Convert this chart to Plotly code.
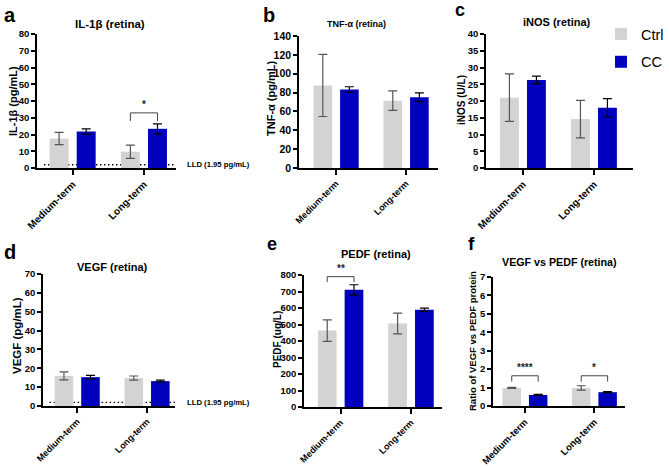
import plotly.graph_objects as go

W, H = 669, 468
FONT = "Liberation Sans, Arial, sans-serif"

categories = ["Medium-term", "Long-term"]
groups = ["Ctrl", "CC"]

# a: IL-1β (retina)
il1b_ctrl = [17.6, 9.7]
il1b_ctrl_err = [3.7, 4.0]
il1b_cc = [21.8, 23.4]
il1b_cc_err = [1.6, 3.0]

# b: TNF-α (retina)
tnfa_ctrl = [87.6, 71.4]
tnfa_ctrl_err = [33.0, 10.3]
tnfa_cc = [83.2, 75.0]
tnfa_cc_err = [3.0, 4.7]

# c: iNOS (retina)
inos_ctrl = [21.0, 14.6]
inos_ctrl_err = [7.1, 5.6]
inos_cc = [26.3, 18.0]
inos_cc_err = [1.1, 2.7]

# d: VEGF (retina)
vegf_ctrl = [16.0, 14.8]
vegf_ctrl_err = [2.1, 1.1]
vegf_cc = [15.3, 13.2]
vegf_cc_err = [0.9, 0.55]

# e: PEDF (retina)
pedf_ctrl = [463, 506]
pedf_ctrl_err = [65, 63]
pedf_cc = [710, 589]
pedf_cc_err = [31, 10]

# f: VEGF vs PEDF ratio
ratio_ctrl = [0.98, 0.98]
ratio_ctrl_err = [0.03, 0.12]
ratio_cc = [0.60, 0.75]
ratio_cc_err = [0.03, 0.03]

LLD = 1.95
LLD_TEXT = "LLD (1.95 pg/mL)"

CTRL_COLOR = "#d3d3d3"
CC_COLOR = "#0000bd"

def px(p):
    return p / W

def py(p):
    return 1 - p / H

panels = [
    dict(letter="a", title="IL-1β (retina)", ytitle="IL-1β (pg/mL)",
         ctrl=il1b_ctrl, ctrl_err=il1b_ctrl_err, cc=il1b_cc, cc_err=il1b_cc_err,
         box=(37, 176, 34, 168), xr=(-0.5, 1.45), ymax=80, dtick=10,
         tickfs=9.5, xtfs=10, titlefs=11.5, ytfs=11, letterpos=(2, 2, 20),
         titlepos=(110, 24), ytpos=(13, 101), lld=True),
    dict(letter="b", title="TNF-α (retina)", ytitle="TNF-α (pg/mL)",
         ctrl=tnfa_ctrl, ctrl_err=tnfa_ctrl_err, cc=tnfa_cc, cc_err=tnfa_cc_err,
         box=(299, 438, 36, 168), xr=(-0.53, 1.456), ymax=140, dtick=20,
         tickfs=10.5, xtfs=9, titlefs=9, ytfs=11, letterpos=(261, 2, 20),
         titlepos=(356, 24), ytpos=(271, 98), lld=False),
    dict(letter="c", title="iNOS (retina)", ytitle="iNOS (U/L)",
         ctrl=inos_ctrl, ctrl_err=inos_ctrl_err, cc=inos_cc, cc_err=inos_cc_err,
         box=(486, 633, 34, 168), xr=(-0.52, 1.55), ymax=40, dtick=5,
         tickfs=9.5, xtfs=10, titlefs=11, ytfs=10, letterpos=(453, -2, 18),
         titlepos=(557, 22), ytpos=(461, 100), lld=False),
    dict(letter="d", title="VEGF (retina)", ytitle="VEGF (pg/mL)",
         ctrl=vegf_ctrl, ctrl_err=vegf_ctrl_err, cc=vegf_cc, cc_err=vegf_cc_err,
         box=(43, 175, 274, 406), xr=(-0.49, 1.40), ymax=70, dtick=10,
         tickfs=9.5, xtfs=9, titlefs=11, ytfs=11.5, letterpos=(2, 239, 20),
         titlepos=(112, 267), ytpos=(17, 336), lld=True),
    dict(letter="e", title="PEDF (retina)", ytitle="PEDF (ug/L)",
         ctrl=pedf_ctrl, ctrl_err=pedf_ctrl_err, cc=pedf_cc, cc_err=pedf_cc_err,
         box=(304, 442, 275, 407), xr=(-0.52, 1.44), ymax=800, dtick=100,
         tickfs=9.5, xtfs=9, titlefs=11, ytfs=10, letterpos=(265, 232, 18),
         titlepos=(376, 254), ytpos=(277, 340), lld=False),
    dict(letter="f", title="VEGF vs PEDF (retina)", ytitle="Ratio of VEGF vs PEDF protein",
         ctrl=ratio_ctrl, ctrl_err=ratio_ctrl_err, cc=ratio_cc, cc_err=ratio_cc_err,
         box=(493, 625, 277, 406), xr=(-0.46, 1.44), ymax=7, dtick=1,
         tickfs=9.5, xtfs=9.5, titlefs=10.7, ytfs=9.5, letterpos=(466, 231, 19),
         titlepos=(559, 262), ytpos=(472, 341), lld=False),
]

# significance: (panel index, category index, bracket top, leg bottom, label)
sig_panel = [0, 4, 5, 5]
sig_cat = [1, 0, 0, 1]
sig_top = [32.9, 790, 1.64, 1.64]
sig_bottom = [28.0, 757, 1.32, 1.32]
sig_label = ["*", "**", "****", "*"]

BAR_HALF = 0.19

fig = go.Figure()
annotations = []
shapes = []
layout_axes = {}
xs = list(range(len(categories)))

for i, p in enumerate(panels):
    n = "" if i == 0 else str(i + 1)
    xref, yref = "x" + n, "y" + n
    for g, vals, errs, color, ecol in [
        ("Ctrl", p["ctrl"], p["ctrl_err"], CTRL_COLOR, "#555555"),
        ("CC", p["cc"], p["cc_err"], CC_COLOR, "#000000"),
    ]:
        fig.add_trace(go.Bar(
            x=xs, y=vals, name=g, xaxis=xref, yaxis=yref,
            marker=dict(color=color, line=dict(width=0)),
            error_y=dict(type="data", array=errs, visible=True,
                         color=ecol, thickness=1.2, width=4.5),
            showlegend=(i == 0), legendgroup=g, hoverinfo="skip",
        ))
    x0, x1, y0, y1 = p["box"]
    layout_axes["xaxis" + n] = dict(
        domain=[px(x0), px(x1)], range=list(p["xr"]), anchor=yref,
        tickmode="array", tickvals=xs, ticktext=categories, tickangle=-45,
        ticks="outside", ticklen=5, tickwidth=1.5, tickcolor="black",
        showline=True, linecolor="black", linewidth=1.5, showgrid=False,
        zeroline=False, fixedrange=True, automargin=False,
        tickfont=dict(family=FONT, size=p["xtfs"], color="black", weight="bold"),
    )
    layout_axes["yaxis" + n] = dict(
        domain=[py(y1), py(y0)], range=[0, p["ymax"]], anchor=xref,
        tick0=0, dtick=p["dtick"],
        ticks="outside", ticklen=4, tickwidth=1.5, tickcolor="black",
        showline=True, linecolor="black", linewidth=1.5, showgrid=False,
        zeroline=False, fixedrange=True, automargin=False,
        tickfont=dict(family=FONT, size=p["tickfs"], color="black", weight="bold"),
    )
    lx, ly, lfs = p["letterpos"]
    annotations.append(dict(
        text="<b>%s</b>" % p["letter"], xref="paper", yref="paper",
        x=px(lx), y=py(ly), xanchor="left", yanchor="top", showarrow=False,
        font=dict(family=FONT, size=lfs, color="black"),
    ))
    tx, ty = p["titlepos"]
    annotations.append(dict(
        text="<b>%s</b>" % p["title"], xref="paper", yref="paper",
        x=px(tx), y=py(ty), xanchor="center", yanchor="middle", showarrow=False,
        font=dict(family=FONT, size=p["titlefs"], color="black"),
    ))
    yx, yy = p["ytpos"]
    annotations.append(dict(
        text="<b>%s</b>" % p["ytitle"], xref="paper", yref="paper",
        x=px(yx), y=py(yy), xanchor="center", yanchor="middle", showarrow=False,
        textangle=-90, font=dict(family=FONT, size=p["ytfs"], color="black"),
    ))
    if p["lld"]:
        shapes.append(dict(
            type="line", xref=xref + " domain", yref=yref, x0=0.05, x1=1,
            y0=LLD, y1=LLD, layer="below",
            line=dict(color="black", width=1.3, dash="1.5px,2.5px"),
        ))
        annotations.append(dict(
            text="<b>%s</b>" % LLD_TEXT, xref="paper", yref=yref,
            x=px(185), y=LLD, xanchor="left", yanchor="middle", showarrow=False,
            font=dict(family=FONT, size=7.7, color="black"),
        ))

for k in range(len(sig_label)):
    i = sig_panel[k]
    n = "" if i == 0 else str(i + 1)
    c = sig_cat[k]
    fig.add_trace(go.Scatter(
        x=[c - BAR_HALF, c - BAR_HALF, c + BAR_HALF, c + BAR_HALF],
        y=[sig_bottom[k], sig_top[k], sig_top[k], sig_bottom[k]],
        mode="lines", line=dict(color="#444444", width=1),
        xaxis="x" + n, yaxis="y" + n, showlegend=False, hoverinfo="skip",
        cliponaxis=False,
    ))
    annotations.append(dict(
        text="<b>%s</b>" % sig_label[k], xref="x" + n, yref="y" + n,
        x=c, y=sig_top[k], xanchor="center", yanchor="bottom", yshift=1,
        showarrow=False, font=dict(family=FONT, size=10, color="#222222"),
    ))

fig.update_layout(
    template="none",
    width=W, height=H, margin=dict(l=0, r=0, t=0, b=0, autoexpand=False),
    paper_bgcolor="white", plot_bgcolor="white",
    barmode="group", bargap=0.24, bargroupgap=0.3,
    showlegend=True,
    legend=dict(x=px(601), y=py(18), xanchor="left", yanchor="top",
                font=dict(family=FONT, size=14.5, color="black"),
                tracegroupgap=6, bgcolor="rgba(0,0,0,0)"),
    annotations=annotations, shapes=shapes,
    font=dict(family=FONT, color="black"),
    **layout_axes,
)

fig.write_html(
    "out.html",
    config={"displayModeBar": False},
    post_script="document.body.style.margin='0';document.body.style.overflow='hidden';",
)
